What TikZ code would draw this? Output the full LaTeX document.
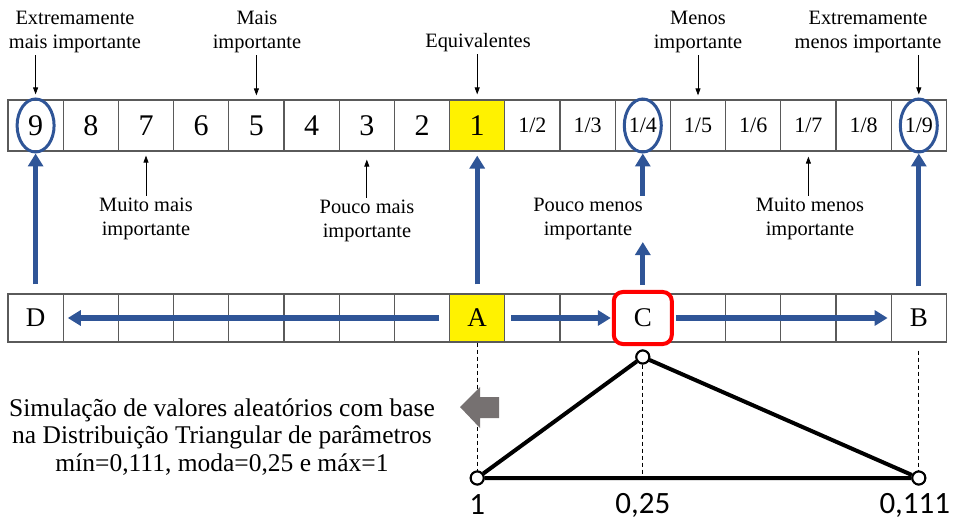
\documentclass[tikz,border=0pt]{standalone}
\usepackage{fontspec}
\setmainfont{Liberation Serif}
\newfontfamily\numfont{Carlito}
\usetikzlibrary{arrows.meta,shapes.geometric,calc}
\definecolor{ahpblue}{RGB}{47,85,151}
\definecolor{arrgray}{RGB}{118,113,113}
\definecolor{cellline}{RGB}{90,90,90}
\begin{document}
\begin{tikzpicture}[x=1pt,y=-1pt,
  cell/.style={draw=cellline, line width=1.2pt, minimum width=55.2pt, inner sep=0pt, anchor=center},
  topcell/.style={cell, minimum height=51pt},
  botcell/.style={cell, minimum height=48pt},
  big/.style={font=\fontsize{30}{32}\selectfont},
  fracstyle/.style={font=\fontsize{22}{24}\selectfont},
  letter/.style={font=\fontsize{27}{29}\selectfont},
  lbl/.style={font=\fontsize{20.4}{24}\selectfont, align=center, inner sep=2pt},
  thinarr/.style={draw=black, line width=0.8pt, -{Triangle[length=7pt,width=5pt]}},
  bluearr/.style={draw=ahpblue, line width=5pt, -{Triangle[length=13pt,width=15pt]}},
  ring/.style={draw=ahpblue, line width=3pt, ellipse, minimum width=37pt, minimum height=53pt, inner sep=0pt},
  vertex/.style={circle, draw=black, fill=white, line width=2pt, minimum size=13pt, inner sep=0pt},
  sidelbl/.style={font=\numfont\fontsize{31}{33}\selectfont, inner sep=0pt},
  ]
\useasboundingbox (0,0) rectangle (961,521);
% top scale
\foreach \v [count=\i from 0] in {9,8,7,6,5,4,3,2}
  \node[topcell,big] (t\i) at ({8+55.2*(\i+0.5)},125.5) {\v};
\node[topcell,big,fill=yellow] (t8) at ({8+55.2*8.5},125.5) {1};
\foreach \d [count=\i from 9] in {2,...,9}
  \node[topcell,fracstyle] (t\i) at ({8+55.2*(\i+0.5)},125.5) {1/\d};
% bottom scale
\foreach \i in {1,...,7,9,10,11,12,13,14,15}
  \node[botcell] (b\i) at ({8+55.2*(\i+0.5)},318) {};
\node[botcell,letter] (D) at ({8+55.2*0.5},318) {D};
\node[botcell,letter,fill=yellow] (A) at ({8+55.2*8.5},318) {A};
\node[botcell,letter] (B) at ({8+55.2*16.5},318) {B};
\node[draw=red, line width=4pt, rounded corners=9pt, fill=white, minimum width=58pt, minimum height=52pt, inner sep=0pt, letter] (C) at (b11) {C};
% rings
\node[ring] (r0) at (t0) {};
\node[ring] (r11) at (t11) {};
\node[ring] (r16) at (t16) {};
% labels
\node[lbl] (lExt) at (75,32) {Extremamente\\mais importante};
\node[lbl] (lMais) at (257,32) {Mais\\importante};
\node[lbl] (lEq) at (478,43) {Equivalentes};
\node[lbl] (lMenos) at (698,32) {Menos\\importante};
\node[lbl] (lExm) at (868,32) {Extremamente\\menos importante};
\node[lbl] (lMuito) at (146,219) {Muito mais\\importante};
\node[lbl] (lPouco) at (367,221) {Pouco mais\\importante};
\node[lbl] (lPmn) at (588,219) {Pouco menos\\importante};
\node[lbl] (lMm) at (810,219) {Muito menos\\importante};
% thin arrows
\draw[thinarr, shorten >=5pt] (t0.north |- lExt.south) -- (t0.north);
\draw[thinarr, shorten >=4pt] (t4.north |- lMais.south) -- (t4.north);
\draw[thinarr, shorten >=5pt] (t8.north |- lEq.south) -- (t8.north);
\draw[thinarr, shorten >=4pt] (t12.north |- lMenos.south) -- (t12.north);
\draw[thinarr, shorten >=5pt] (t16.north |- lExm.south) -- (t16.north);
\draw[thinarr, shorten >=4pt] (t2.south |- lMuito.north) -- (t2.south);
\draw[thinarr, shorten >=8pt] (t6.south |- lPouco.north) -- (t6.south);
\draw[thinarr, shorten >=5pt] (t14.south |- lMm.north) -- (t14.south);
% blue arrows
\draw[bluearr, shorten <=9pt] (D.north) -- (r0.south);
\draw[bluearr, shorten <=9pt, shorten >=4pt] (A.north) -- (t8.south);
\draw[bluearr, shorten <=5pt] (C.north) -- (C.north |- lPmn.south);
\draw[bluearr] (C.north |- lPmn.north) -- (r11.south);
\draw[bluearr, shorten <=7pt] (B.north) -- (r16.south);
\draw[bluearr, shorten <=10pt, shorten >=4pt] (A.west) -- (D.east);
\draw[bluearr, shorten <=6pt, shorten >=1pt] (A.east) -- (C.west);
\draw[bluearr, shorten <=2pt, shorten >=3pt] (C.east) -- (B.west);
% triangle
\node[vertex] (p1) at (A |- 0,478) {};
\node[vertex] (p2) at (C |- 0,357) {};
\node[vertex] (p3) at (B |- 0,478) {};
\coordinate (m2) at (p2 |- p1);
\draw[dashed, line width=1pt, dash pattern=on 4pt off 3pt] (A.south) -- (p1.north);
\draw[dashed, line width=1pt, dash pattern=on 4pt off 3pt] (p2.south) -- (m2);
\draw[dashed, line width=1pt, dash pattern=on 4pt off 3pt, shorten <=8pt] (B.south) -- (p3.north);
\draw[line width=4pt, line join=round] (p1) -- (p2) -- (p3) -- (p1);
\node[vertex] at (p1) {};
\node[vertex] at (p2) {};
\node[vertex] at (p3) {};
\node[sidelbl] (n1) at (p1 |- 0,505) {1};
\node[sidelbl] (n2) at (p2 |- 0,505) {0,25};
\node[sidelbl] (n3) at ([xshift=-4pt]p3 |- 0,505) {0,111};
% gray arrow
\fill[arrgray] (460,407) -- (480,387) -- (480,397) -- (499,397) -- (499,418) -- (480,418) -- (480,428) -- cycle;
% text
\node[font=\fontsize{25.5}{27.5}\selectfont, align=center, inner sep=0pt] (sim) at (222,437) {Simulação de valores aleatórios com base\\na Distribuição Triangular de parâmetros\\mín=0,111, moda=0,25 e máx=1};
\end{tikzpicture}
\end{document}
